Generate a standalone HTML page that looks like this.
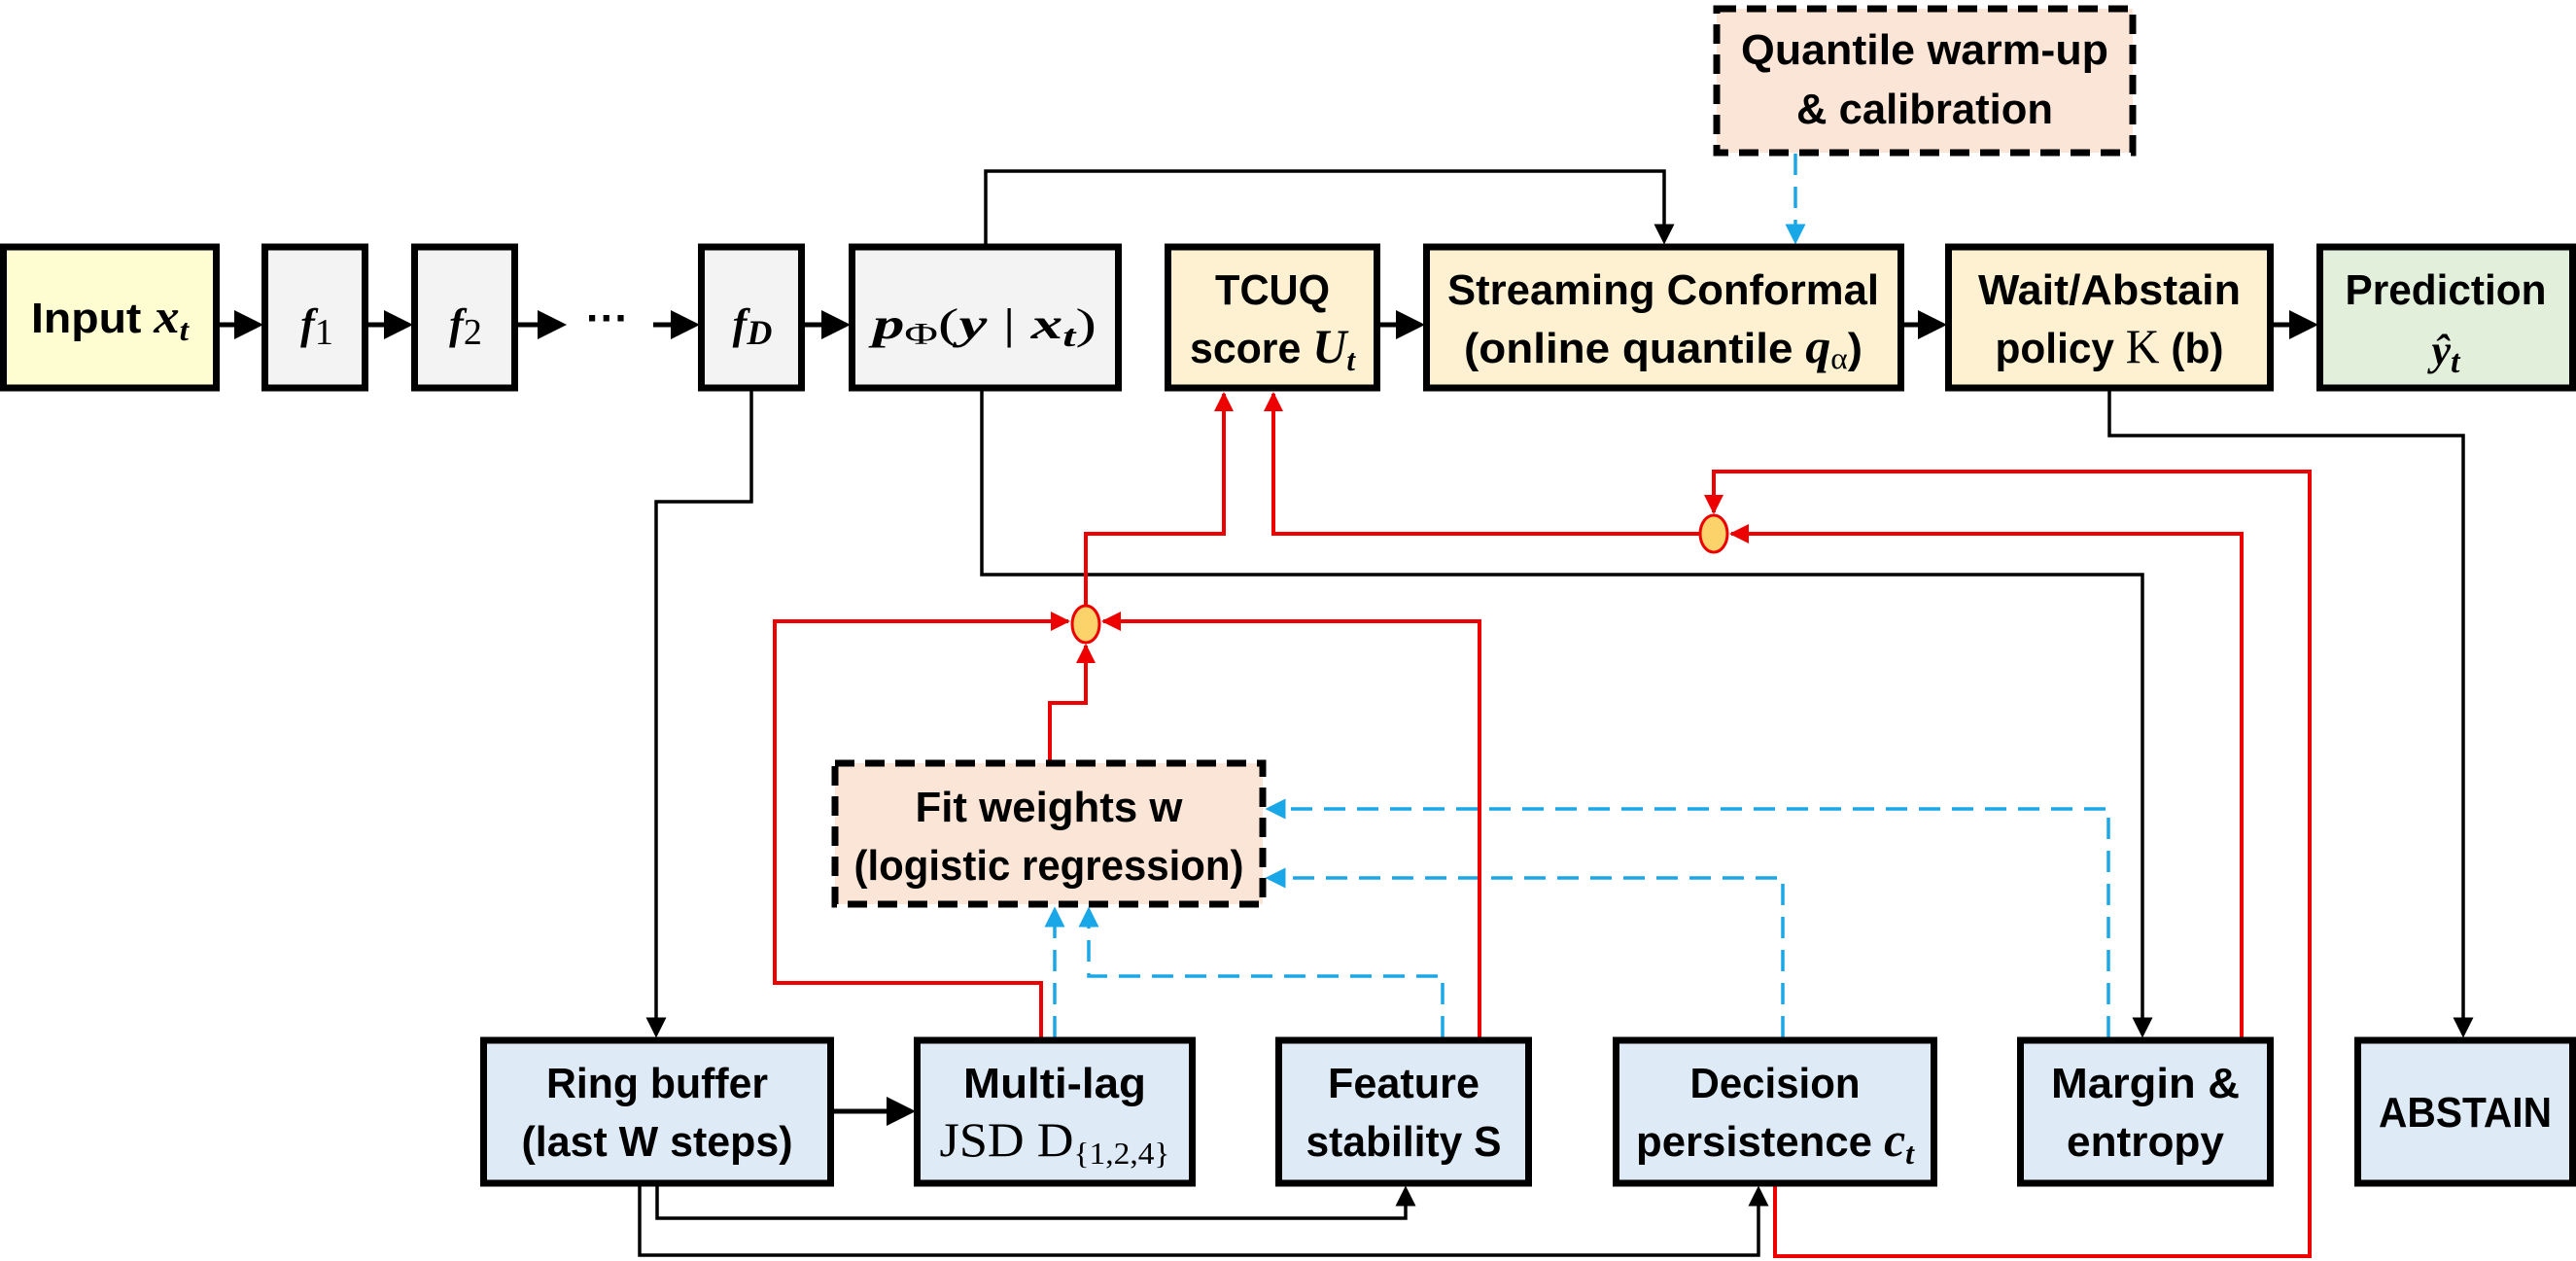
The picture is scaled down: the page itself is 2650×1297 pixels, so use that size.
<!DOCTYPE html>
<html><head><meta charset="utf-8"><style>
html,body{margin:0;padding:0;background:#fff;}
svg{display:block;}
text{font-family:"Liberation Sans Narrow","Liberation Sans",sans-serif;font-weight:bold;font-size:44px;fill:#000;}
.m{font-family:"Liberation Serif",serif;font-style:italic;font-weight:bold;}
.r{font-family:"Liberation Serif",serif;font-weight:normal;font-style:normal;}
</style></head><body>
<svg width="2650" height="1297" viewBox="0 0 2650 1297" xmlns="http://www.w3.org/2000/svg">
<defs>
<marker id="ak" markerWidth="6" markerHeight="6" refX="5" refY="3" orient="auto" markerUnits="strokeWidth"><path d="M0,0 L6,3 L0,6 z" fill="#000"/></marker>
<marker id="ar" markerWidth="5" markerHeight="5" refX="4.5" refY="2.5" orient="auto" markerUnits="strokeWidth"><path d="M0,0 L5,2.5 L0,5 z" fill="#e00"/></marker>
<marker id="ab" markerWidth="6" markerHeight="6" refX="5" refY="3" orient="auto" markerUnits="strokeWidth"><path d="M0,0 L6,3 L0,6 z" fill="#1aa7e8"/></marker>
</defs>
<g fill="none" stroke-linejoin="miter">
<g stroke="#000" stroke-width="5">
<line x1="226" y1="334" x2="266" y2="334" marker-end="url(#ak)"/>
<line x1="379" y1="334" x2="420" y2="334" marker-end="url(#ak)"/>
<line x1="533" y1="334" x2="578" y2="334" marker-end="url(#ak)"/>
<line x1="672" y1="334" x2="715" y2="334" marker-end="url(#ak)"/>
<line x1="828" y1="334" x2="870" y2="334" marker-end="url(#ak)"/>
<line x1="1420" y1="334" x2="1461" y2="334" marker-end="url(#ak)"/>
<line x1="1959" y1="334" x2="1998" y2="334" marker-end="url(#ak)"/>
<line x1="2339" y1="334" x2="2380" y2="334" marker-end="url(#ak)"/>
<line x1="858" y1="1143" x2="937" y2="1143" marker-end="url(#ak)"/>
</g>
<g stroke="#000" stroke-width="3.5">
<polyline points="1014,251 1014,176 1712,176 1712,248" marker-end="url(#ak)"/>
<polyline points="773,402 773,516 675,516 675,1064" marker-end="url(#ak)"/>
<polyline points="1010,402 1010,591 2204,591 2204,1064" marker-end="url(#ak)"/>
<polyline points="2170,402 2170,448 2534,448 2534,1064" marker-end="url(#ak)"/>
<polyline points="676,1220 676,1253 1446,1253 1446,1223" marker-end="url(#ak)"/>
<polyline points="658,1220 658,1291 1809,1291 1809,1223" marker-end="url(#ak)"/>
</g>
<g stroke="#1aa7e8" stroke-width="3.5" stroke-dasharray="22,12">
<line x1="1847" y1="158" x2="1847" y2="248" marker-end="url(#ab)"/>
<polyline points="2169,1067 2169,832 1305,832" marker-end="url(#ab)"/>
<polyline points="1834,1067 1834,903 1305,903" marker-end="url(#ab)"/>
<line x1="1085" y1="1067" x2="1085" y2="936" marker-end="url(#ab)"/>
<polyline points="1484,1067 1484,1004 1120,1004 1120,936" marker-end="url(#ab)"/>
</g>
<g stroke="#e00" stroke-width="4">
<polyline points="1117,623 1117,549 1259,549 1259,405" marker-end="url(#ar)"/>
<polyline points="1748,549 1310,549 1310,405" marker-end="url(#ar)"/>
<polyline points="1080,782 1080,723 1117,723 1117,664" marker-end="url(#ar)"/>
<polyline points="1071,1067 1071,1011 797,1011 797,639 1099,639" marker-end="url(#ar)"/>
<polyline points="1522,1067 1522,639 1135,639" marker-end="url(#ar)"/>
<polyline points="2306,1067 2306,549 1781,549" marker-end="url(#ar)"/>
<polyline points="1826,1220 1826,1292 2376,1292 2376,485 1763,485 1763,527" marker-end="url(#ar)"/>
</g>
<ellipse cx="1117" cy="642" rx="14" ry="19" fill="#fbd36a" stroke="#e00" stroke-width="3"/>
<ellipse cx="1763" cy="549" rx="14" ry="19" fill="#fbd36a" stroke="#e00" stroke-width="3"/>
<g stroke="#000" stroke-width="7">
<rect x="3.5" y="254" width="219" height="145" fill="#fefdd2"/>
<rect x="272.5" y="254" width="103" height="145" fill="#f3f3f3"/>
<rect x="426.5" y="254" width="103" height="145" fill="#f3f3f3"/>
<rect x="721.5" y="254" width="103" height="145" fill="#f3f3f3"/>
<rect x="876.5" y="254" width="274" height="145" fill="#f3f3f3"/>
<rect x="1201.5" y="254" width="215" height="145" fill="#fdf1d1"/>
<rect x="1467.5" y="254" width="488" height="145" fill="#fdf1d1"/>
<rect x="2004.5" y="254" width="331" height="145" fill="#fdf1d1"/>
<rect x="2386.5" y="254" width="260" height="145" fill="#e2efda"/>
<rect x="497.5" y="1070" width="357" height="147" fill="#deeaf6"/>
<rect x="943.5" y="1070" width="283" height="147" fill="#deeaf6"/>
<rect x="1315.5" y="1070" width="257" height="147" fill="#deeaf6"/>
<rect x="1662.5" y="1070" width="327" height="147" fill="#deeaf6"/>
<rect x="2078.5" y="1070" width="257" height="147" fill="#deeaf6"/>
<rect x="2425.5" y="1070" width="221" height="147" fill="#deeaf6"/>
<rect x="1766" y="9" width="428" height="148" fill="#fbe5d6" stroke-dasharray="20,11"/>
<rect x="859" y="785" width="440" height="145" fill="#fbe5d6" stroke-dasharray="20,11"/>
</g>
</g>
<g text-anchor="middle">
<text x="113" y="342" textLength="162" lengthAdjust="spacingAndGlyphs">Input <tspan class="m" font-size="50">x</tspan><tspan class="m" font-size="32" dy="8">t</tspan></text>
<text x="326" y="348" class="m" font-size="60">f<tspan font-size="38" class="r" font-weight="bold" dy="6">1</tspan></text>
<text x="479" y="348" class="m" font-size="60">f<tspan font-size="38" class="r" font-weight="bold" dy="6">2</tspan></text>
<text x="625" y="342" font-size="48">···</text>
<text x="774" y="348" class="m" font-size="60">f<tspan font-size="36" dy="6">D</tspan></text>
<text x="1013" y="348" class="m" font-size="54" textLength="230" lengthAdjust="spacingAndGlyphs">p<tspan class="r" font-size="32" dy="6">Φ</tspan><tspan class="r" dy="-6">(</tspan>y<tspan class="r"> | </tspan>x<tspan font-size="32" dy="8">t</tspan><tspan class="r" dy="-8">)</tspan></text>
<text x="1309" y="313" textLength="118" lengthAdjust="spacingAndGlyphs">TCUQ</text>
<text x="1309" y="373" textLength="170" lengthAdjust="spacingAndGlyphs">score <tspan class="m" font-size="50">U</tspan><tspan class="m" font-size="32" dy="8">t</tspan></text>
<text x="1711" y="313" textLength="444" lengthAdjust="spacingAndGlyphs">Streaming Conformal</text>
<text x="1711" y="373" textLength="410" lengthAdjust="spacingAndGlyphs">(online quantile <tspan class="m" font-size="50">q</tspan><tspan class="r" font-size="32" dy="6">α</tspan><tspan dy="-6">)</tspan></text>
<text x="2170" y="313" textLength="270" lengthAdjust="spacingAndGlyphs">Wait/Abstain</text>
<text x="2170" y="373" textLength="235" lengthAdjust="spacingAndGlyphs">policy <tspan class="r" font-size="50">K</tspan> (b)</text>
<text x="2516" y="313" textLength="207" lengthAdjust="spacingAndGlyphs">Prediction</text>
<text x="2516" y="375" class="m" font-size="54">ŷ<tspan font-size="34" dy="8">t</tspan></text>
<text x="1980" y="66" textLength="378" lengthAdjust="spacingAndGlyphs">Quantile warm-up</text>
<text x="1980" y="127" textLength="264" lengthAdjust="spacingAndGlyphs">&amp; calibration</text>
<text x="1079" y="845" textLength="275" lengthAdjust="spacingAndGlyphs">Fit weights w</text>
<text x="1079" y="905" textLength="401" lengthAdjust="spacingAndGlyphs">(logistic regression)</text>
<text x="676" y="1129" textLength="228" lengthAdjust="spacingAndGlyphs">Ring buffer</text>
<text x="676" y="1189" textLength="279" lengthAdjust="spacingAndGlyphs">(last W steps)</text>
<text x="1085" y="1129" textLength="188" lengthAdjust="spacingAndGlyphs">Multi-lag</text>
<text x="1085" y="1189" textLength="237" lengthAdjust="spacingAndGlyphs"><tspan class="r" font-size="50">JSD  D</tspan><tspan class="r" font-size="32" dy="8">{1,2,4}</tspan></text>
<text x="1444" y="1129" textLength="156" lengthAdjust="spacingAndGlyphs">Feature</text>
<text x="1444" y="1189" textLength="201" lengthAdjust="spacingAndGlyphs">stability S</text>
<text x="1826" y="1129" textLength="175" lengthAdjust="spacingAndGlyphs">Decision</text>
<text x="1826" y="1189" textLength="286" lengthAdjust="spacingAndGlyphs">persistence <tspan class="m" font-size="50">c</tspan><tspan class="m" font-size="32" dy="8">t</tspan></text>
<text x="2207" y="1129" textLength="194" lengthAdjust="spacingAndGlyphs">Margin &amp;</text>
<text x="2207" y="1189" textLength="162" lengthAdjust="spacingAndGlyphs">entropy</text>
<text x="2536" y="1159" textLength="178" lengthAdjust="spacingAndGlyphs">ABSTAIN</text>
</g>
</svg>
</body></html>
